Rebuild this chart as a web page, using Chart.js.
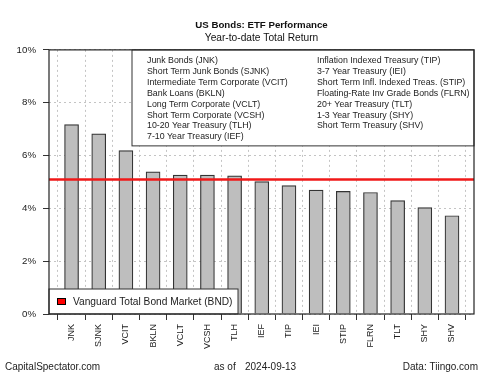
<!DOCTYPE html>
<html>
<head>
<meta charset="utf-8">
<script src="https://cdn.jsdelivr.net/npm/chart.js@4"></script>
<style>
  body { margin: 0; background: #fff; }
</style>
</head>
<body>
<canvas id="chart" width="500" height="375"></canvas>
<script>
const tickers = ['JNK', 'SJNK', 'VCIT', 'BKLN', 'VCLT', 'VCSH', 'TLH', 'IEF', 'TIP', 'IEI', 'STIP', 'FLRN', 'TLT', 'SHY', 'SHV'];
const fundNames = [
  'Junk Bonds (JNK)', 'Short Term Junk Bonds (SJNK)', 'Intermediate Term Corporate (VCIT)',
  'Bank Loans (BKLN)', 'Long Term Corporate (VCLT)', 'Short Term Corporate (VCSH)',
  '10-20 Year Treasury (TLH)', '7-10 Year Treasury (IEF)', 'Inflation Indexed Treasury (TIP)',
  '3-7 Year Treasury (IEI)', 'Short Term Infl. Indexed Treas. (STIP)', 'Floating-Rate Inv Grade Bonds (FLRN)',
  '20+ Year Treasury (TLT)', '1-3 Year Treasury (SHY)', 'Short Term Treasury (SHV)'
];
const ytdReturn = [7.17, 6.82, 6.19, 5.38, 5.26, 5.26, 5.23, 5.01, 4.86, 4.69, 4.64, 4.60, 4.29, 4.03, 3.72];
const bndName = 'Vanguard Total Bond Market (BND)';
const bndReturn = 5.09;
const yTicks = [0, 2, 4, 6, 8, 10];

const xMin = -0.83, xMax = 14.81;

Chart.defaults.font.family = '"Liberation Sans", Arial, sans-serif';
Chart.defaults.color = '#222';

// box around plot, legend boxes, footer text
const extras = {
  id: 'extras',
  afterDatasetsDraw(chart) {
    const ctx = chart.ctx;
    const a = chart.chartArea;
    ctx.save();

    // top legend box with fund names
    const half = Math.ceil(fundNames.length / 2);
    ctx.fillStyle = '#fff';
    ctx.fillRect(132, a.top, a.right - 132, 96);
    ctx.strokeStyle = '#333';
    ctx.lineWidth = 1;
    ctx.strokeRect(132, a.top, a.right - 132, 96);
    ctx.fillStyle = '#222';
    ctx.font = '8.8px "Liberation Sans", Arial, sans-serif';
    ctx.textBaseline = 'middle';
    ctx.textAlign = 'left';
    fundNames.forEach((n, i) => {
      const col = i < half ? 0 : 1;
      const row = i < half ? i : i - half;
      ctx.fillText(n, col ? 317 : 147, a.top + 11 + row * 10.85);
    });

    // bottom legend box for BND
    ctx.fillStyle = '#fff';
    ctx.fillRect(a.left, a.bottom - 25, 189, 25);
    ctx.strokeRect(a.left, a.bottom - 25, 189, 25);
    ctx.fillStyle = '#ff0000';
    ctx.fillRect(57.5, a.bottom - 15.5, 8, 6);
    ctx.strokeStyle = '#000';
    ctx.strokeRect(57.5, a.bottom - 15.5, 8, 6);
    ctx.fillStyle = '#222';
    ctx.font = '10.2px "Liberation Sans", Arial, sans-serif';
    ctx.fillText(bndName, 73, a.bottom - 11.5);

    // plot frame
    ctx.strokeStyle = '#222';
    ctx.lineWidth = 1.2;
    ctx.strokeRect(a.left, a.top, a.right - a.left, a.bottom - a.top);

    // footer
    ctx.font = '10px "Liberation Sans", Arial, sans-serif';
    ctx.fillText('CapitalSpectator.com', 5, 367);
    ctx.fillText('as of', 214, 367);
    ctx.fillText('2024-09-13', 245, 367);
    ctx.textAlign = 'right';
    ctx.fillText('Data: Tiingo.com', 478, 367);
    ctx.restore();
  }
};

new Chart(document.getElementById('chart'), {
  type: 'bar',
  data: {
    datasets: [
      {
        type: 'line',
        label: bndName,
        data: [{ x: xMin, y: bndReturn }, { x: xMax, y: bndReturn }],
        borderColor: '#f01818',
        borderWidth: 2.5,
        pointRadius: 0,
        order: 0
      },
      {
        label: 'YTD',
        data: ytdReturn.map((v, i) => ({ x: i, y: v })),
        backgroundColor: '#bebebe',
        borderColor: '#333',
        borderWidth: 1.2,
        barThickness: 14,
        order: 1
      }
    ]
  },
  options: {
    responsive: false,
    animation: false,
    layout: { padding: { left: 0, right: 26, top: 0, bottom: 0 } },
    plugins: {
      legend: { display: false },
      tooltip: { enabled: false },
      title: {
        display: true,
        fullSize: false,
        text: 'US Bonds: ETF Performance',
        font: { size: 9.7, weight: 'bold' },
        color: '#111',
        padding: { top: 20, bottom: 0 }
      },
      subtitle: {
        display: true,
        fullSize: false,
        text: 'Year-to-date Total Return',
        font: { size: 10.2 },
        color: '#111',
        padding: { top: 0, bottom: 6 }
      }
    },
    scales: {
      x: {
        type: 'linear',
        min: xMin,
        max: xMax,
        offset: false,
        afterBuildTicks: s => { s.ticks = tickers.map((t, i) => ({ value: i })); },
        afterFit: s => { s.height = 61; },
        grid: {
          color: '#c4c4c4',
          tickColor: '#333',
          tickLength: 6,
          tickWidth: 1,
          tickBorderDash: []
        },
        border: { display: false, dash: [2, 3] },
        ticks: {
          autoSkip: false,
          minRotation: 90,
          maxRotation: 90,
          padding: 4,
          color: '#222',
          font: { size: 9 },
          callback: v => tickers[v]
        }
      },
      y: {
        min: 0,
        max: 10,
        afterBuildTicks: s => { s.ticks = yTicks.map(v => ({ value: v })); },
        afterFit: s => { s.width = 49; },
        grid: {
          color: '#c4c4c4',
          tickColor: '#333',
          tickLength: 6,
          tickWidth: 1,
          tickBorderDash: []
        },
        border: { display: false, dash: [2, 3] },
        ticks: {
          padding: 7,
          color: '#222',
          font: { size: 9.7 },
          callback: v => v + '%'
        }
      }
    }
  },
  plugins: [extras]
});
</script>
</body>
</html>
